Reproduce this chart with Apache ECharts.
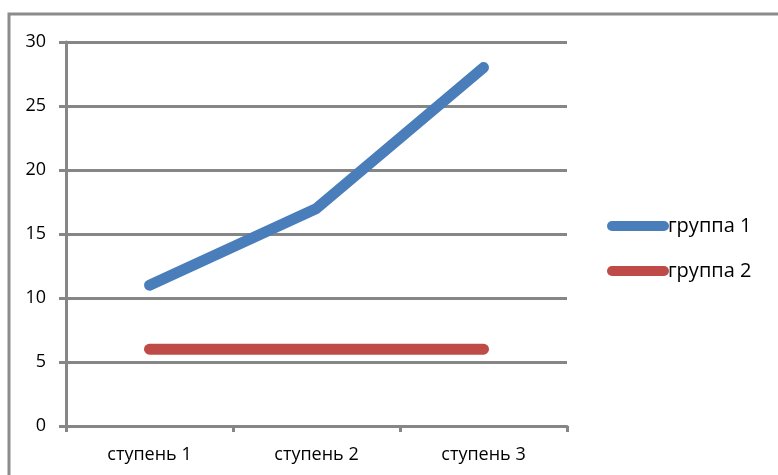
<!DOCTYPE html>
<html>
<head>
<meta charset="utf-8">
<script src="https://cdn.jsdelivr.net/npm/echarts@6/dist/echarts.min.js"></script>
<style>
  html, body { margin: 0; padding: 0; background: #fff; }
  #chart { width: 778px; height: 475px; }
</style>
</head>
<body>
<div id="chart"></div>
<script>
// Categories and series values
const categories = ['ступень 1', 'ступень 2', 'ступень 3'];
const group1 = [11, 17, 28];
const group2 = [6, 6, 6];
const seriesNames = ['группа 1', 'группа 2'];
const yTicks = { min: 0, max: 30, interval: 5 };

const FONT = '"Open Sans", "Liberation Sans", sans-serif';
const GRID_COLOR = '#868686';
// Legend swatch: a thick stroke with rounded ends
const PILL = 'path://M5,0 H57 A5,5 0 0 1 57,10 H5 A5,5 0 0 1 5,0 Z';

const chart = echarts.init(document.getElementById('chart'), null, { renderer: 'canvas' });

chart.setOption({
  animation: false,
  backgroundColor: '#ffffff',
  graphic: [
    {
      type: 'rect',
      shape: { x: 9, y: 14, width: 800, height: 500 },
      style: { fill: 'none', stroke: '#8c8c8c', lineWidth: 3 },
      silent: true
    }
  ],
  grid: { left: 66, top: 42, right: 211, bottom: 49 },
  legend: {
    orient: 'vertical',
    left: 602,
    top: 211,
    itemWidth: 62,
    itemHeight: 10,
    itemGap: 25,
    textStyle: { fontFamily: FONT, fontSize: 20, lineHeight: 20, color: '#000', padding: [0, 0, 0, -6] },
    data: seriesNames.map(n => ({ name: n, icon: PILL }))
  },
  xAxis: {
    type: 'category',
    data: categories,
    boundaryGap: true,
    axisLine: { lineStyle: { color: GRID_COLOR, width: 3 } },
    axisTick: { show: true, length: 6, lineStyle: { color: GRID_COLOR, width: 3 } },
    axisLabel: { fontFamily: FONT, fontSize: 18, color: '#000', margin: 20 },
    splitLine: { show: false }
  },
  yAxis: {
    type: 'value',
    min: yTicks.min,
    max: yTicks.max,
    interval: yTicks.interval,
    axisLine: { show: true, lineStyle: { color: GRID_COLOR, width: 3 } },
    axisTick: { show: true, length: 7, lineStyle: { color: GRID_COLOR, width: 3 } },
    axisLabel: { fontFamily: FONT, fontSize: 18, color: '#000', margin: 20 },
    splitLine: { show: true, lineStyle: { color: GRID_COLOR, width: 3 } }
  },
  series: [
    {
      name: seriesNames[0],
      type: 'line',
      data: group1,
      symbol: 'none',
      color: '#4a7ebb',
      lineStyle: { width: 11, cap: 'round', join: 'round', color: '#4a7ebb' }
    },
    {
      name: seriesNames[1],
      type: 'line',
      data: group2,
      symbol: 'none',
      color: '#be4b48',
      lineStyle: { width: 11, cap: 'round', join: 'round', color: '#be4b48' }
    }
  ]
});
</script>
</body>
</html>
